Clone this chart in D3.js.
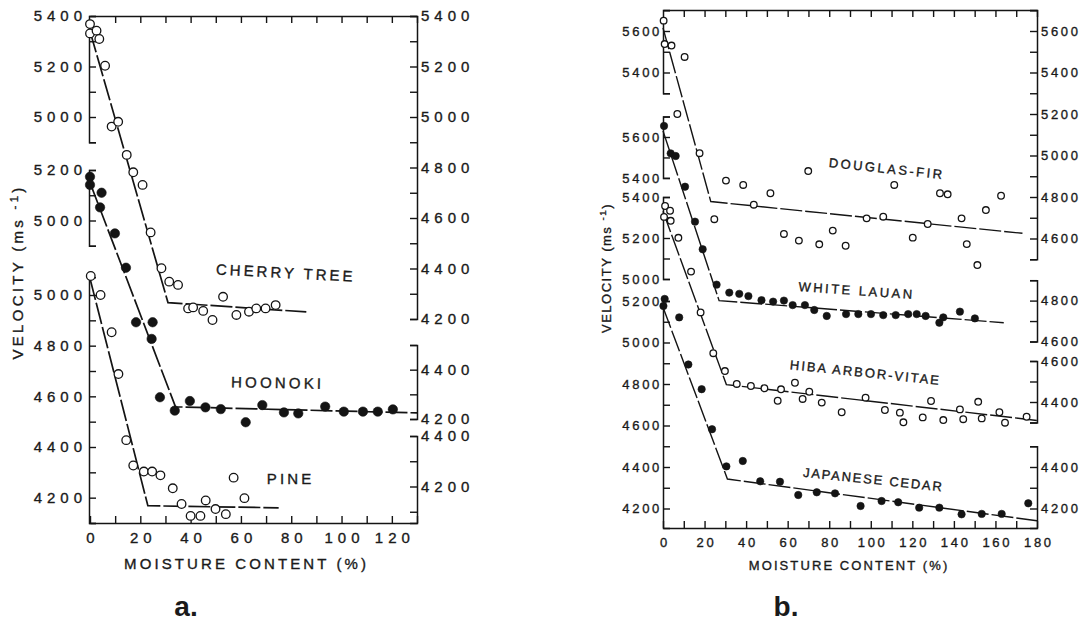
<!DOCTYPE html>
<html>
<head>
<meta charset="utf-8">
<script src="https://cdn.jsdelivr.net/npm/d3@7"></script>
<style>
  body { margin: 0; background: #fff; }
  text { font-family: "Liberation Sans", Arial, sans-serif; fill: #1a1a1a; stroke: #1a1a1a; stroke-width: 0.35px; }
</style>
</head>
<body>
<svg id="chart" width="1083" height="625"></svg>
<script>
// ---- data: [moisture %, velocity m/s] ----

// panel a
const cherryPts = [[0,5368],[0,5331],[2.6,5342],[3.7,5309],[6,5203],[8.6,4962],[11.2,4981],[14.6,4850],
  [17.2,4781],[20.9,4731],[24.1,4543],[28.4,4401],[31.5,4348],[35,4335],[39,4242],[41,4246],[45,4232],
  [48.7,4196],[52.9,4288],[58.2,4216],[63.2,4229],[66.1,4242],[69.8,4242],[73.8,4255]];
const cherryFit = [[0,5340],[31,4265],[86,4228]];

const hoonokiPts = [[0,5173],[0,5141],[4.6,5110],[4,5052],[9.9,4949],[14.3,4813],[18.3,4597],[24.9,4597],
  [24.5,4531],[27.8,4300],[33.7,4247],[39.7,4285],[45.9,4260],[52,4253],[61.9,4201],[68.5,4269],[77.1,4240],
  [82.8,4236],[93.5,4263],[100.9,4243],[108.5,4243],[114.4,4243],[120.4,4252]];
const hoonokiFit = [[0,5150],[34,4262],[130,4238]];

const pinePts = [[0.3,5075],[4.2,5000],[8.6,4853],[11.3,4688],[14.4,4427],[17.2,4327],[21.4,4303],[24.7,4303],
  [28,4288],[32.9,4237],[36.4,4175],[40,4128],[43.9,4128],[46,4189],[49.9,4155],[54,4135],[57.1,4279],[61.4,4198]];
const pineFit = [[0,5065],[23,4168],[75,4160]];

// panel b
const douglasPts = [[0.3,5650],[0.8,5537],[4.1,5530],[10.4,5475],[6.9,5200],[17.6,5011],[24.7,4693],[30.3,4879],
  [38.6,4858],[43.7,4763],[51.7,4818],[58.2,4622],[65.4,4590],[69.9,4925],[75.2,4572],[81.7,4638],[87.9,4565],
  [98,4697],[106,4705],[111.3,4858],[120.2,4604],[127.4,4670],[133.3,4818],[137,4813],[143.7,4697],[146.2,4573],
  [151.3,4472],[155.4,4737],[162.7,4806]];
const douglasFit = [[0,5615],[23,4778],[173,4625]];

const lauanPts = [[0.5,5654],[3.7,5520],[6.1,5507],[10.6,5357],[15.4,5186],[19.1,5051],[25.8,4878],[31.9,4839],
  [36.7,4833],[41.1,4822],[47.4,4802],[53,4795],[58.2,4800],[62.4,4778],[68.3,4778],[72.8,4754],[78.8,4725],
  [88.1,4734],[94,4734],[100.1,4734],[106,4729],[112,4729],[118,4734],[122.1,4734],[126.4,4725],[133,4692],
  [134.9,4718],[142.9,4746],[150.1,4713]];
const lauanFit = [[0,5630],[27,4800],[164,4692]];

const hibaPts = [[1,5356],[3.4,5333],[0.5,5303],[3.7,5284],[7.4,5201],[13.5,5036],[18.1,4837],[24.2,4638],
  [29.8,4551],[35.5,4488],[42.3,4478],[48.8,4467],[55.2,4406],[56.8,4462],[63.5,4494],[67.2,4415],[70.4,4450],
  [76.4,4397],[86,4350],[97.5,4421],[106.8,4361],[114,4348],[115.7,4301],[125,4325],[129,4405],[134.9,4312],
  [142.9,4364],[144.5,4316],[151.7,4401],[153.4,4320],[161.9,4350],[164.6,4299],[175,4328]];
const hibaFit = [[0,5330],[30.5,4485],[180,4310]];

const cedarPts = [[0.8,5210],[0.2,5176],[7.8,5121],[12.2,4894],[18.6,4775],[23.6,4582],[30.5,4403],[38.4,4429],
  [46.8,4331],[56.3,4329],[65.1,4265],[74,4278],[82.8,4273],[95.1,4212],[105.2,4236],[113.2,4230],[123.3,4204],
  [133,4204],[143.7,4172],[153.4,4174],[163,4174],[175.8,4225]];
const cedarFit = [[0,5170],[31,4342],[180,4141]];

// tick labels
const xLabelsA = [0,20,40,60,80,100,120];
const xLabelsB = [0,20,40,60,80,100,120,140,160,180];
const cherryLeftLabels = [5400,5200,5000];
const cherryRightLabels = [5400,5200,5000,4800,4600,4400,4200];
const hoonokiLeftLabels = [5200,5000];
const hoonokiRightLabels = [4400,4200];
const pineLeftLabels = [5000,4800,4600,4400,4200];
const pineRightLabels = [4400,4200];
const douglasLeftLabels = [5600,5400];
const douglasRightLabels = [5600,5400,5200,5000,4800,4600];
const lauanLeftLabels = [5600,5400];
const lauanRightLabels = [4800,4600];
const hibaLeftLabels = [5400,5200,5000];
const hibaRightLabels = [4600,4400];
const cedarLeftLabels = [5200,5000,4800,4600,4400,4200];
const cedarRightLabels = [4400,4200];

// ---- drawing ----
const svg = d3.select('#chart');
const ink = '#141414';

// panel geometry
const aTop = 16, aBottom = 523, bTop = 10, bBottom = 528;
const xA = d3.scaleLinear().domain([0,130]).range([90,417]);
const xB = d3.scaleLinear().domain([0,180]).range([663,1037]);

// each species has its own offset velocity scale
const cherryY = d3.scaleLinear().domain([5400,4200]).range([16,319]);
const hoonokiY = d3.scaleLinear().domain([5200,4200]).range([170,422.5]);
const hoonokiYR = d3.scaleLinear().domain([4500,4200]).range([345,419]);
const pineY = d3.scaleLinear().domain([5000,4100]).range([295,523]);
const pineYR = d3.scaleLinear().domain([4400,4200]).range([436,486.5]);

const douglasY = d3.scaleLinear().domain([5600,4500]).range([31,259.25]);
const lauanY = d3.scaleLinear().domain([5700,4600]).range([116.55,341.5]);
const hibaY = d3.scaleLinear().domain([5400,4300]).range([197,422.5]);
const cedarY = d3.scaleLinear().domain([5200,4100]).range([301,529.25]);

function styleAxis(g, fs, sp){
  g.attr('font-family', null).attr('font-size', null);
  g.select('.domain').attr('stroke', ink).attr('stroke-width', 1.5).attr('fill', 'none');
  g.selectAll('.tick line').attr('stroke', ink).attr('stroke-width', 1.4);
  g.selectAll('.tick text').attr('fill', '#1a1a1a').style('font-size', fs + 'px')
    .style('letter-spacing', sp + 'px');
}

// one bracketed piece of a vertical axis
function ySeg(side, xPos, scale, top, bottom, labels, fs, sp, pad){
  const seg = scale.copy().domain([top, bottom]).range([scale(top), scale(bottom)]);
  const ticks = d3.range(Math.ceil(bottom/100 - 1e-6)*100, top + 1e-6, 100);
  const ax = (side === 'left' ? d3.axisLeft(seg) : d3.axisRight(seg))
    .tickValues(ticks).tickSize(-7).tickSizeOuter(-7).tickPadding(pad)
    .tickFormat(d => labels.includes(d) ? d : '');
  const g = svg.append('g').attr('transform', `translate(${xPos},0)`).call(ax);
  styleAxis(g, fs, sp);
}

function xFrame(x, yTop, yBottom, labels, fs, sp, pad){
  const ticks = d3.range(0, x.domain()[1] + 1e-6, 10);
  const bot = d3.axisBottom(x).tickValues(ticks).tickSize(-7).tickSizeOuter(0).tickPadding(pad)
    .tickFormat(d => labels.includes(d) ? d : '');
  const gb = svg.append('g').attr('transform', `translate(0,${yBottom})`).call(bot);
  styleAxis(gb, fs, sp);
  gb.selectAll('.tick text').attr('dx', sp/2);
  const top = d3.axisTop(x).tickValues(ticks.slice(1)).tickSize(-7).tickSizeOuter(0).tickFormat('');
  const gt = svg.append('g').attr('transform', `translate(0,${yTop})`).call(top);
  styleAxis(gt, fs, sp);
}

function series(x, y, pts, fit, filled, r, lw){
  const line = d3.line().x(d => x(d[0])).y(d => y(d[1]));
  svg.append('path').datum(fit).attr('d', line)
    .attr('fill', 'none').attr('stroke', ink).attr('stroke-width', lw)
    .attr('stroke-dasharray', '22,3');
  svg.append('g').selectAll('circle').data(pts).join('circle')
    .attr('cx', d => x(d[0])).attr('cy', d => y(d[1])).attr('r', r)
    .attr('fill', filled ? ink : '#fff')
    .attr('stroke', ink).attr('stroke-width', filled ? 0.6 : 1.3);
}

function label(x, y, txt, fs, sp, rot){
  svg.append('text').attr('transform', `translate(${x},${y}) rotate(${rot || 0})`)
    .attr('text-anchor', 'middle').attr('dx', sp/2)
    .style('font-size', fs + 'px').style('letter-spacing', sp + 'px')
    .text(txt);
}

function yTitle(x, y, fs, sp){
  const t = svg.append('text').attr('transform', `translate(${x},${y}) rotate(-90)`)
    .attr('text-anchor', 'middle').style('font-size', fs + 'px').style('letter-spacing', sp + 'px');
  t.append('tspan').text('VELOCITY (ms ');
  t.append('tspan').attr('dy', -fs*0.35).style('font-size', (fs*0.75) + 'px').text('-1');
  t.append('tspan').attr('dy', fs*0.35).text(')');
}

// ---- panel a ----
const fsA = 15, spA = 5;
xFrame(xA, aTop, aBottom, xLabelsA, fsA, spA, 9.5);
ySeg('left', 89, cherryY, 5400, 4900, cherryLeftLabels, fsA, spA, 2);
ySeg('left', 89, hoonokiY, 5200, 4900, hoonokiLeftLabels, fsA, spA, 2);
ySeg('left', 89, pineY, 5070, pineY.invert(aBottom), pineLeftLabels, fsA, spA, 2);
ySeg('right', 417, cherryY, 5400, 4200, cherryRightLabels, fsA, spA, 4);
ySeg('right', 417, hoonokiYR, 4500, 4200, hoonokiRightLabels, fsA, spA, 4);
ySeg('right', 417, pineYR, 4400, pineYR.invert(aBottom), pineRightLabels, fsA, spA, 4);

series(xA, cherryY, cherryPts, cherryFit, false, 4.3, 1.7);
series(xA, hoonokiY, hoonokiPts, hoonokiFit, true, 4.7, 1.7);
series(xA, pineY, pinePts, pineFit, false, 4.3, 1.7);

label(284, 278, 'CHERRY TREE', 15, 3, 3);
label(276, 388, 'HOONOKI', 15, 3.2, 1);
label(289, 484, 'PINE', 15, 3.2, 0);
label(245, 569, 'MOISTURE CONTENT (%)', 15, 3.1, 0);
yTitle(23, 272, 15, 3.3);

// ---- panel b ----
const fsB = 13, spB = 2.7;
xFrame(xB, bTop, bBottom, xLabelsB, fsB, spB, 9.5);
ySeg('left', 663, douglasY, douglasY.invert(bTop), 5300, douglasLeftLabels, fsB, spB, 1);
ySeg('left', 663, lauanY, 5700, 5400, lauanLeftLabels, fsB, spB, 1);
ySeg('left', 663, hibaY, 5400, 5000, hibaLeftLabels, fsB, spB, 1);
ySeg('left', 663, cedarY, 5200, cedarY.invert(bBottom), cedarLeftLabels, fsB, spB, 1);
ySeg('right', 1037, douglasY, douglasY.invert(bTop), 4500, douglasRightLabels, fsB, spB, 4);
ySeg('right', 1037, lauanY, 4900, 4600, lauanRightLabels, fsB, spB, 4);
ySeg('right', 1037, hibaY, 4600, 4300, hibaRightLabels, fsB, spB, 4);
ySeg('right', 1037, cedarY, 4500, cedarY.invert(bBottom), cedarRightLabels, fsB, spB, 4);

series(xB, douglasY, douglasPts, douglasFit, false, 3.3, 1.4);
series(xB, lauanY, lauanPts, lauanFit, true, 3.7, 1.4);
series(xB, hibaY, hibaPts, hibaFit, false, 3.3, 1.4);
series(xB, cedarY, cedarPts, cedarFit, true, 3.7, 1.4);

label(885, 173, 'DOUGLAS-FIR', 13, 2.5, 6);
label(855, 295, 'WHITE LAUAN', 13, 2.5, 4);
label(864, 377, 'HIBA ARBOR-VITAE', 13, 2, 6);
label(872, 484, 'JAPANESE CEDAR', 13, 1.8, 6);
label(848, 570, 'MOISTURE CONTENT (%)', 13, 2.1, 0);
yTitle(611, 268, 13, 1.5);

// panel letters
svg.append('text').attr('x', 186).attr('y', 616).attr('text-anchor', 'middle')
  .style('font-size', '28px').style('font-weight', 'bold').style('stroke-width', 0).text('a.');
svg.append('text').attr('x', 786).attr('y', 616).attr('text-anchor', 'middle')
  .style('font-size', '28px').style('font-weight', 'bold').style('stroke-width', 0).text('b.');
</script>
</body>
</html>
